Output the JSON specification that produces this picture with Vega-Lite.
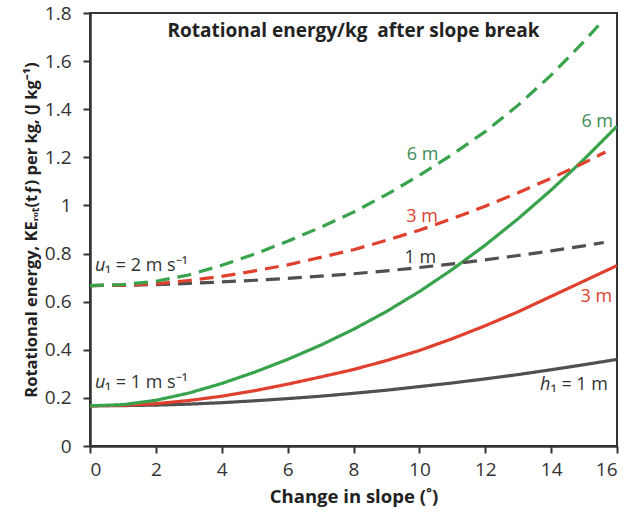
{
  "$schema": "https://vega.github.io/schema/vega-lite/v6.json",
  "autosize": {"type": "none"},
  "padding": {"left": 90, "top": 13, "right": 12, "bottom": 69},
  "width": 527,
  "height": 433,
  "background": "white",
  "config": {
    "view": {"stroke": "#333333", "strokeWidth": 2},
    "font": "Open Sans",
    "axis": {
      "labelFont": "Open Sans", "labelFontSize": 19, "labelColor": "#333333",
      "titleFont": "Open Sans", "titleColor": "#222222", "titleFontWeight": "bold",
      "domainColor": "#333333", "domainWidth": 2.5,
      "tickColor": "#333333", "tickWidth": 2, "tickSize": 7,
      "grid": false
    }
  },
  "datasets": {
    "curves": [
      {"slope": 0, "h": "1 m", "u": "1", "ke": 0.167}, {"slope": 1, "h": "1 m", "u": "1", "ke": 0.168}, {"slope": 2, "h": "1 m", "u": "1", "ke": 0.170}, {"slope": 3, "h": "1 m", "u": "1", "ke": 0.174}, {"slope": 4, "h": "1 m", "u": "1", "ke": 0.180}, {"slope": 5, "h": "1 m", "u": "1", "ke": 0.188}, {"slope": 6, "h": "1 m", "u": "1", "ke": 0.197}, {"slope": 7, "h": "1 m", "u": "1", "ke": 0.207}, {"slope": 8, "h": "1 m", "u": "1", "ke": 0.219}, {"slope": 9, "h": "1 m", "u": "1", "ke": 0.232}, {"slope": 10, "h": "1 m", "u": "1", "ke": 0.247}, {"slope": 11, "h": "1 m", "u": "1", "ke": 0.262}, {"slope": 12, "h": "1 m", "u": "1", "ke": 0.279}, {"slope": 13, "h": "1 m", "u": "1", "ke": 0.297}, {"slope": 14, "h": "1 m", "u": "1", "ke": 0.317}, {"slope": 15, "h": "1 m", "u": "1", "ke": 0.338}, {"slope": 16, "h": "1 m", "u": "1", "ke": 0.360},
      {"slope": 0, "h": "3 m", "u": "1", "ke": 0.167}, {"slope": 1, "h": "3 m", "u": "1", "ke": 0.169}, {"slope": 2, "h": "3 m", "u": "1", "ke": 0.176}, {"slope": 3, "h": "3 m", "u": "1", "ke": 0.189}, {"slope": 4, "h": "3 m", "u": "1", "ke": 0.207}, {"slope": 5, "h": "3 m", "u": "1", "ke": 0.230}, {"slope": 6, "h": "3 m", "u": "1", "ke": 0.257}, {"slope": 7, "h": "3 m", "u": "1", "ke": 0.287}, {"slope": 8, "h": "3 m", "u": "1", "ke": 0.318}, {"slope": 9, "h": "3 m", "u": "1", "ke": 0.355}, {"slope": 10, "h": "3 m", "u": "1", "ke": 0.397}, {"slope": 11, "h": "3 m", "u": "1", "ke": 0.446}, {"slope": 12, "h": "3 m", "u": "1", "ke": 0.500}, {"slope": 13, "h": "3 m", "u": "1", "ke": 0.558}, {"slope": 14, "h": "3 m", "u": "1", "ke": 0.622}, {"slope": 15, "h": "3 m", "u": "1", "ke": 0.686}, {"slope": 16, "h": "3 m", "u": "1", "ke": 0.750},
      {"slope": 0, "h": "6 m", "u": "1", "ke": 0.167}, {"slope": 1, "h": "6 m", "u": "1", "ke": 0.172}, {"slope": 2, "h": "6 m", "u": "1", "ke": 0.190}, {"slope": 3, "h": "6 m", "u": "1", "ke": 0.220}, {"slope": 4, "h": "6 m", "u": "1", "ke": 0.260}, {"slope": 5, "h": "6 m", "u": "1", "ke": 0.307}, {"slope": 6, "h": "6 m", "u": "1", "ke": 0.360}, {"slope": 7, "h": "6 m", "u": "1", "ke": 0.419}, {"slope": 8, "h": "6 m", "u": "1", "ke": 0.485}, {"slope": 9, "h": "6 m", "u": "1", "ke": 0.559}, {"slope": 10, "h": "6 m", "u": "1", "ke": 0.642}, {"slope": 11, "h": "6 m", "u": "1", "ke": 0.734}, {"slope": 12, "h": "6 m", "u": "1", "ke": 0.835}, {"slope": 13, "h": "6 m", "u": "1", "ke": 0.945}, {"slope": 14, "h": "6 m", "u": "1", "ke": 1.064}, {"slope": 15, "h": "6 m", "u": "1", "ke": 1.192}, {"slope": 16, "h": "6 m", "u": "1", "ke": 1.329},
      {"slope": 0, "h": "1 m", "u": "2", "ke": 0.667}, {"slope": 1, "h": "1 m", "u": "2", "ke": 0.668}, {"slope": 2, "h": "1 m", "u": "2", "ke": 0.671}, {"slope": 3, "h": "1 m", "u": "2", "ke": 0.676}, {"slope": 4, "h": "1 m", "u": "2", "ke": 0.682}, {"slope": 5, "h": "1 m", "u": "2", "ke": 0.689}, {"slope": 6, "h": "1 m", "u": "2", "ke": 0.697}, {"slope": 7, "h": "1 m", "u": "2", "ke": 0.706}, {"slope": 8, "h": "1 m", "u": "2", "ke": 0.716}, {"slope": 9, "h": "1 m", "u": "2", "ke": 0.728}, {"slope": 10, "h": "1 m", "u": "2", "ke": 0.742}, {"slope": 11, "h": "1 m", "u": "2", "ke": 0.757}, {"slope": 12, "h": "1 m", "u": "2", "ke": 0.774}, {"slope": 13, "h": "1 m", "u": "2", "ke": 0.792}, {"slope": 14, "h": "1 m", "u": "2", "ke": 0.811}, {"slope": 15, "h": "1 m", "u": "2", "ke": 0.832}, {"slope": 15.6, "h": "1 m", "u": "2", "ke": 0.846},
      {"slope": 0, "h": "3 m", "u": "2", "ke": 0.667}, {"slope": 1, "h": "3 m", "u": "2", "ke": 0.668}, {"slope": 2, "h": "3 m", "u": "2", "ke": 0.674}, {"slope": 3, "h": "3 m", "u": "2", "ke": 0.688}, {"slope": 4, "h": "3 m", "u": "2", "ke": 0.705}, {"slope": 5, "h": "3 m", "u": "2", "ke": 0.728}, {"slope": 6, "h": "3 m", "u": "2", "ke": 0.753}, {"slope": 7, "h": "3 m", "u": "2", "ke": 0.784}, {"slope": 8, "h": "3 m", "u": "2", "ke": 0.816}, {"slope": 9, "h": "3 m", "u": "2", "ke": 0.855}, {"slope": 10, "h": "3 m", "u": "2", "ke": 0.897}, {"slope": 11, "h": "3 m", "u": "2", "ke": 0.945}, {"slope": 12, "h": "3 m", "u": "2", "ke": 0.997}, {"slope": 13, "h": "3 m", "u": "2", "ke": 1.053}, {"slope": 14, "h": "3 m", "u": "2", "ke": 1.113}, {"slope": 15, "h": "3 m", "u": "2", "ke": 1.177}, {"slope": 15.65, "h": "3 m", "u": "2", "ke": 1.222},
      {"slope": 0, "h": "6 m", "u": "2", "ke": 0.667}, {"slope": 1, "h": "6 m", "u": "2", "ke": 0.671}, {"slope": 2, "h": "6 m", "u": "2", "ke": 0.685}, {"slope": 3, "h": "6 m", "u": "2", "ke": 0.711}, {"slope": 4, "h": "6 m", "u": "2", "ke": 0.751}, {"slope": 5, "h": "6 m", "u": "2", "ke": 0.798}, {"slope": 6, "h": "6 m", "u": "2", "ke": 0.851}, {"slope": 7, "h": "6 m", "u": "2", "ke": 0.909}, {"slope": 8, "h": "6 m", "u": "2", "ke": 0.972}, {"slope": 9, "h": "6 m", "u": "2", "ke": 1.045}, {"slope": 10, "h": "6 m", "u": "2", "ke": 1.125}, {"slope": 11, "h": "6 m", "u": "2", "ke": 1.212}, {"slope": 12, "h": "6 m", "u": "2", "ke": 1.307}, {"slope": 13, "h": "6 m", "u": "2", "ke": 1.417}, {"slope": 14, "h": "6 m", "u": "2", "ke": 1.542}, {"slope": 15, "h": "6 m", "u": "2", "ke": 1.682}, {"slope": 15.45, "h": "6 m", "u": "2", "ke": 1.75}
    ],
    "labels": [
      {"x": 8.0, "y": 1.70, "text": "Rotational energy/kg\u00a0 after slope break", "kind": "title"},
      {"x": 9.62, "y": 1.189, "text": "6 m", "kind": "green"},
      {"x": 15.88, "y": 1.327, "text": "6 m", "kind": "green-r"},
      {"x": 9.60, "y": 0.932, "text": "3 m", "kind": "red"},
      {"x": 15.85, "y": 0.60, "text": "3 m", "kind": "red-r"},
      {"x": 9.55, "y": 0.759, "text": "1 m", "kind": "dark"},
      {"x": 0.45, "y": 0.729, "text": "\u2081 = 2 m s\u207b\u00b9", "kind": "dark"},
      {"x": 0.45, "y": 0.241, "text": "\u2081 = 1 m s\u207b\u00b9", "kind": "dark"},
      {"x": 13.98, "y": 0.233, "text": "\u2081 = 1 m", "kind": "dark"},
      {"x": 0.15, "y": 0.729, "text": "u", "kind": "italic"},
      {"x": 0.15, "y": 0.241, "text": "u", "kind": "italic"},
      {"x": 13.66, "y": 0.233, "text": "h", "kind": "italic"}
    ]
  },
  "layer": [
    {
      "data": {"name": "curves"},
      "mark": {"type": "line", "strokeWidth": 3.2, "clip": true},
      "encoding": {
        "x": {
          "field": "slope", "type": "quantitative",
          "scale": {"domain": [0, 16], "nice": false},
          "axis": {
            "values": [0, 2, 4, 6, 8, 10, 12, 14, 16],
            "title": "Change in slope (\u02da)", "titleFontSize": 18.5, "titlePadding": 8,
            "labelPadding": 7
          }
        },
        "y": {
          "field": "ke", "type": "quantitative",
          "scale": {"domain": [0, 1.8], "nice": false, "zero": true},
          "axis": {
            "values": [0, 0.2, 0.4, 0.6, 0.8, 1, 1.2, 1.4, 1.6, 1.8],
            "format": "~g",
            "title": "Rotational energy, KE\u1d63\u2092\u209c(t\u0192) per kg, (J kg\u207b\u00b9)",
            "titleFontSize": 16.5, "titlePadding": 5, "labelPadding": 12
          }
        },
        "color": {
          "field": "h", "type": "nominal",
          "scale": {"domain": ["1 m", "3 m", "6 m"], "range": ["#505050", "#e0402e", "#38a24c"]},
          "legend": null
        },
        "strokeDash": {
          "field": "u", "type": "nominal",
          "scale": {"domain": ["1", "2"], "range": [[1, 0], [14, 8]]},
          "legend": null
        },
        "detail": {"field": "h"}
      }
    },
    {
      "data": {"name": "labels"},
      "transform": [{"filter": "datum.kind == 'title'"}],
      "mark": {"type": "text", "align": "center", "baseline": "alphabetic", "fontSize": 19, "fontWeight": "bold", "color": "#222222"},
      "encoding": {"x": {"field": "x", "type": "quantitative"}, "y": {"field": "y", "type": "quantitative"}, "text": {"field": "text"}}
    },
    {
      "data": {"name": "labels"},
      "transform": [{"filter": "datum.kind == 'dark'"}],
      "mark": {"type": "text", "align": "left", "baseline": "alphabetic", "fontSize": 18, "color": "#333333"},
      "encoding": {"x": {"field": "x", "type": "quantitative"}, "y": {"field": "y", "type": "quantitative"}, "text": {"field": "text"}}
    },
    {
      "data": {"name": "labels"},
      "transform": [{"filter": "datum.kind == 'italic'"}],
      "mark": {"type": "text", "align": "left", "baseline": "alphabetic", "fontSize": 18, "fontStyle": "italic", "color": "#333333"},
      "encoding": {"x": {"field": "x", "type": "quantitative"}, "y": {"field": "y", "type": "quantitative"}, "text": {"field": "text"}}
    },
    {
      "data": {"name": "labels"},
      "transform": [{"filter": "datum.kind == 'green'"}],
      "mark": {"type": "text", "align": "left", "baseline": "alphabetic", "fontSize": 18, "color": "#3d8c55"},
      "encoding": {"x": {"field": "x", "type": "quantitative"}, "y": {"field": "y", "type": "quantitative"}, "text": {"field": "text"}}
    },
    {
      "data": {"name": "labels"},
      "transform": [{"filter": "datum.kind == 'green-r'"}],
      "mark": {"type": "text", "align": "right", "baseline": "alphabetic", "fontSize": 18, "color": "#3d8c55"},
      "encoding": {"x": {"field": "x", "type": "quantitative"}, "y": {"field": "y", "type": "quantitative"}, "text": {"field": "text"}}
    },
    {
      "data": {"name": "labels"},
      "transform": [{"filter": "datum.kind == 'red'"}],
      "mark": {"type": "text", "align": "left", "baseline": "alphabetic", "fontSize": 18, "color": "#d9432f"},
      "encoding": {"x": {"field": "x", "type": "quantitative"}, "y": {"field": "y", "type": "quantitative"}, "text": {"field": "text"}}
    },
    {
      "data": {"name": "labels"},
      "transform": [{"filter": "datum.kind == 'red-r'"}],
      "mark": {"type": "text", "align": "right", "baseline": "alphabetic", "fontSize": 18, "color": "#d9432f"},
      "encoding": {"x": {"field": "x", "type": "quantitative"}, "y": {"field": "y", "type": "quantitative"}, "text": {"field": "text"}}
    }
  ]
}
